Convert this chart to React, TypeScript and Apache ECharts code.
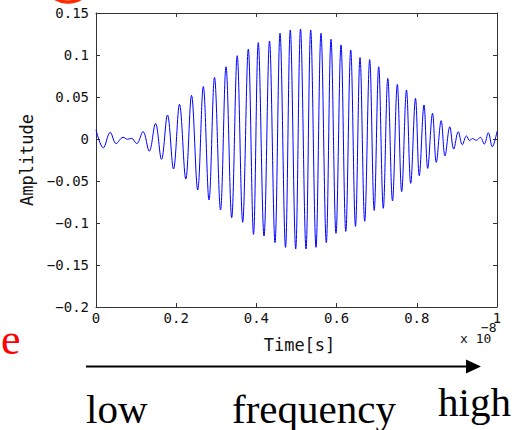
import React, { useEffect, useRef } from "react";
import * as echarts from "echarts";

// Time in units of 1e-8 s (local extrema of the waveform)
const timeValues = [
  0.0, 0.0182, 0.0354, 0.0504, 0.0673, 0.0786, 0.0885, 0.1015, 0.1172, 0.1327,
  0.1484, 0.1633, 0.1783, 0.1933, 0.2082, 0.2239, 0.2382, 0.2536, 0.2676, 0.2818,
  0.2955, 0.3105, 0.3242, 0.3384, 0.3521, 0.3658, 0.3798, 0.3928, 0.4047, 0.419,
  0.4327, 0.4464, 0.4589, 0.4726, 0.4845, 0.498, 0.51, 0.5237, 0.5354, 0.5486,
  0.5611, 0.5743, 0.586, 0.5985, 0.611, 0.6229, 0.6352, 0.6471, 0.6584, 0.6701,
  0.6825, 0.6938, 0.705, 0.7165, 0.7277, 0.7394, 0.7514, 0.7623, 0.7743, 0.7848,
  0.7968, 0.8062, 0.818, 0.8272, 0.8392, 0.8486, 0.8608, 0.8703, 0.8823, 0.892,
  0.9035, 0.9135, 0.9239, 0.9319, 0.9384, 0.9484, 0.9584, 0.9683, 0.9783, 0.9883,
  1.0,
];

const amplitudeValues = [
  0.011, -0.0105, 0.0078, -0.0055, 0.002, -0.0003, 0.0008, -0.0055, 0.0088, -0.0145,
  0.0185, -0.0242, 0.0286, -0.0357, 0.0413, -0.0476, 0.052, -0.0607, 0.0625, -0.0726,
  0.0734, -0.0845, 0.086, -0.0937, 0.0992, -0.0992, 0.107, -0.1135, 0.1147, -0.1155,
  0.1167, -0.1234, 0.1258, -0.129, 0.1298, -0.131, 0.131, -0.131, 0.1298, -0.129,
  0.1258, -0.1234, 0.1187, -0.1123, 0.112, -0.11, 0.106, -0.104, 0.097, -0.098,
  0.0945, -0.085, 0.086, -0.0825, 0.0722, -0.0738, 0.065, -0.0627, 0.0583, -0.0528,
  0.0484, -0.0437, 0.0405, -0.035, 0.0306, -0.0278, 0.0218, -0.0202, 0.0146, -0.012,
  0.0087, -0.0068, 0.0036, -0.002, 0.0005, -0.0015, 0.002, -0.006, 0.0075, -0.0091,
  0.009,
];

const xAxisTitle = "Time[s]";
const yAxisTitle = "Amplitude";
const exponentBase = "x 10";
const exponentPower = "\u22128";
const bottomWords = ["low", "frequency", "high"];
const sideLetter = "e";

const MONO = "DejaVu Sans Mono";
const SERIF = "Liberation Serif, Times New Roman, serif";
const AXIS_COLOR = "#333";

const fmtNum = (v: number) => {
  const r = Math.round(v * 100) / 100;
  return String(r).replace("-", "\u2212");
};

export default function App() {
  const ref = useRef<HTMLDivElement>(null);

  useEffect(() => {
    if (!ref.current) return;
    const chart = echarts.init(ref.current, undefined, { renderer: "svg" });

    const axisLineCfg = { show: true, onZero: false, lineStyle: { color: AXIS_COLOR, width: 1 } };
    const tickCfg = { show: true, inside: true, length: 4, lineStyle: { color: AXIS_COLOR, width: 1 } };

    chart.setOption({
      animation: false,
      backgroundColor: "#ffffff",
      grid: { left: 96, right: 34, top: 13, bottom: 123, containLabel: false },
      xAxis: [
        {
          type: "value",
          min: 0,
          max: 1,
          interval: 0.2,
          position: "bottom",
          axisLine: axisLineCfg,
          axisTick: tickCfg,
          splitLine: { show: false },
          axisLabel: {
            fontFamily: MONO,
            fontSize: 14,
            color: "#111",
            margin: 4,
            showMinLabel: true,
            showMaxLabel: true,
            formatter: (v: number) => fmtNum(v),
          },
          name: xAxisTitle,
          nameLocation: "middle",
          nameGap: 29,
          nameTextStyle: { fontFamily: MONO, fontSize: 17, color: "#111", padding: [0, 0, 0, 6] },
        },
        {
          type: "value",
          min: 0,
          max: 1,
          interval: 0.2,
          position: "top",
          axisLine: axisLineCfg,
          axisTick: tickCfg,
          splitLine: { show: false },
          axisLabel: { show: false },
        },
      ],
      yAxis: [
        {
          type: "value",
          min: -0.2,
          max: 0.15,
          interval: 0.05,
          position: "left",
          axisLine: axisLineCfg,
          axisTick: tickCfg,
          splitLine: { show: false },
          axisLabel: {
            fontFamily: MONO,
            fontSize: 14,
            color: "#111",
            margin: 7,
            showMinLabel: true,
            showMaxLabel: true,
            formatter: (v: number) => fmtNum(v),
          },
          name: yAxisTitle,
          nameLocation: "middle",
          nameGap: 57,
          nameRotate: 90,
          nameTextStyle: { fontFamily: MONO, fontSize: 17, color: "#111" },
        },
        {
          type: "value",
          min: -0.2,
          max: 0.15,
          interval: 0.05,
          position: "right",
          axisLine: axisLineCfg,
          axisTick: tickCfg,
          splitLine: { show: false },
          axisLabel: { show: false },
        },
      ],
      series: [
        {
          type: "line",
          xAxisIndex: 0,
          yAxisIndex: 0,
          data: timeValues.map((t, i) => [t, amplitudeValues[i]]),
          smooth: 0.37,
          showSymbol: false,
          symbol: "none",
          lineStyle: { color: "#0000ff", width: 1 },
        },
      ],
      graphic: [
        {
          type: "circle",
          shape: { cx: 68, cy: -24, r: 26 },
          style: { fill: "none", stroke: "#ff2a00", lineWidth: 3.5 },
        },
        {
          type: "text",
          x: 460,
          y: 338,
          style: { text: exponentBase, font: `13px ${MONO}`, fill: "#111", verticalAlign: "middle", align: "left" },
        },
        {
          type: "text",
          x: 481,
          y: 327,
          style: { text: exponentPower, font: `13px ${MONO}`, fill: "#111", verticalAlign: "middle", align: "left" },
        },
        {
          type: "text",
          x: 1,
          y: 339,
          style: { text: sideLetter, font: `44px ${SERIF}`, fill: "#ff0000", verticalAlign: "middle", align: "left" },
        },
        {
          type: "line",
          shape: { x1: 86, y1: 366.5, x2: 468, y2: 366.5 },
          style: { stroke: "#000", lineWidth: 2 },
        },
        {
          type: "polygon",
          shape: { points: [[466, 359.5], [481, 366.5], [466, 373.5]] },
          style: { fill: "#000" },
        },
        {
          type: "text",
          x: 86,
          y: 409,
          style: { text: bottomWords[0], font: `41px ${SERIF}`, fill: "#000", verticalAlign: "middle", align: "left" },
        },
        {
          type: "text",
          x: 232,
          y: 409,
          style: { text: bottomWords[1], font: `41px ${SERIF}`, fill: "#000", verticalAlign: "middle", align: "left" },
        },
        {
          type: "text",
          x: 438,
          y: 402,
          style: { text: bottomWords[2], font: `41px ${SERIF}`, fill: "#000", verticalAlign: "middle", align: "left" },
        },
      ],
    });

    return () => chart.dispose();
  }, []);

  return <div ref={ref} style={{ width: 531, height: 430, position: "absolute", left: 0, top: 0 }} />;
}
